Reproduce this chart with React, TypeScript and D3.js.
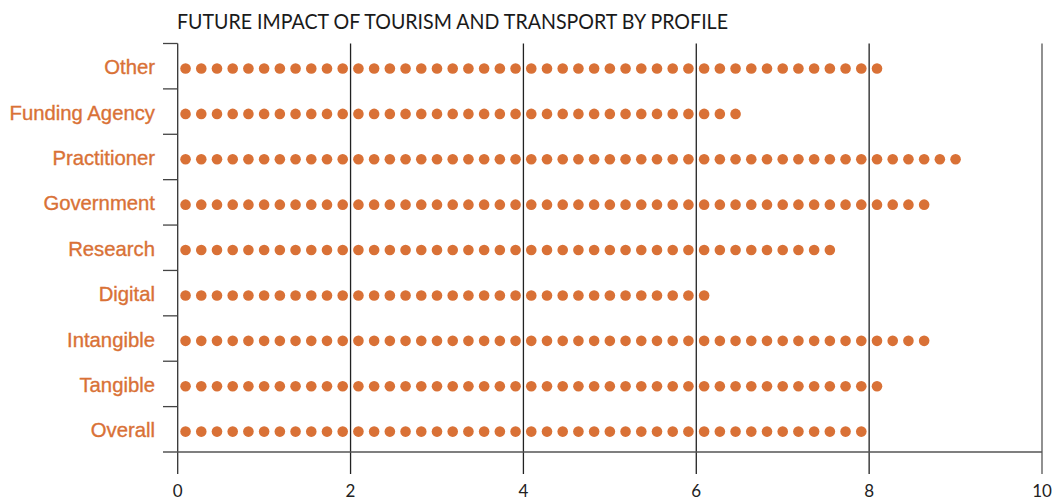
import React from "react";
import * as d3 from "d3";

const categories = ["Other", "Funding Agency", "Practitioner", "Government", "Research", "Digital", "Intangible", "Tangible", "Overall"];
const values = [8.2, 6.5, 9.1, 8.7, 7.6, 6.2, 8.7, 8.2, 8.0];
const xTicks = [0, 2, 4, 6, 8, 10];
const title = "FUTURE IMPACT OF TOURISM AND TRANSPORT BY PROFILE";
const dotStep = 2 / 11;

const W = 1053, H = 500;
const ORANGE = "#D97136";

export default function App() {
  const x = d3.scaleLinear().domain([0, 10]).range([177.7, 1042]);
  const y = d3.scaleBand<string>().domain(categories).range([43.5, 452]).padding(0);
  const bw = y.bandwidth();

  return (
    <svg width={W} height={H} style={{ position: "absolute", left: 0, top: 0, background: "#fff" }}>
      <text x={177} y={29} fontFamily="Lato" fontWeight={400} fontSize={21.5} fill="#1a1a1a"
        textLength={551} lengthAdjust="spacingAndGlyphs">{title}</text>

      {/* vertical grid lines */}
      {xTicks.filter(t => t > 0).map(t => (
        <line key={"g" + t} x1={x(t)} x2={x(t)} y1={43.5} y2={474} stroke={t === 10 ? "#555" : "#222"} strokeWidth={1.3} />
      ))}
      {/* left axis */}
      <line x1={x(0)} x2={x(0)} y1={43.5} y2={474} stroke="#333" strokeWidth={1.3} />
      {/* band boundary ticks */}
      {categories.map((c) => (
        <line key={"t" + c} x1={163} x2={x(0)} y1={y(c)!} y2={y(c)!} stroke="#444" strokeWidth={1.3} />
      ))}
      {/* bottom axis */}
      <line x1={163} x2={x(10)} y1={452} y2={452} stroke="#555" strokeWidth={1.5} />

      {xTicks.map(t => (
        <text key={"l" + t} x={x(t)} y={497} textAnchor="middle" fontFamily="Lato" fontWeight={400}
          fontSize={17} fill="#222">{t}</text>
      ))}

      {categories.map((c, i) => {
        const cy = y(c)! + bw / 2 + 2.3;
        const n = Math.round(values[i] / dotStep);
        const dots = d3.range(n).map(k => (k + 0.5) * dotStep);
        return (
          <g key={c}>
            <text x={155} y={y(c)! + bw / 2 + 8} textAnchor="end" fontFamily="Liberation Sans" fontSize={20.3}
              fill={ORANGE} stroke={ORANGE} strokeWidth={0.35}>{c}</text>
            {dots.map((d, k) => (
              <circle key={k} cx={x(d)} cy={cy} r={5.3} fill={ORANGE} />
            ))}
          </g>
        );
      })}
    </svg>
  );
}
